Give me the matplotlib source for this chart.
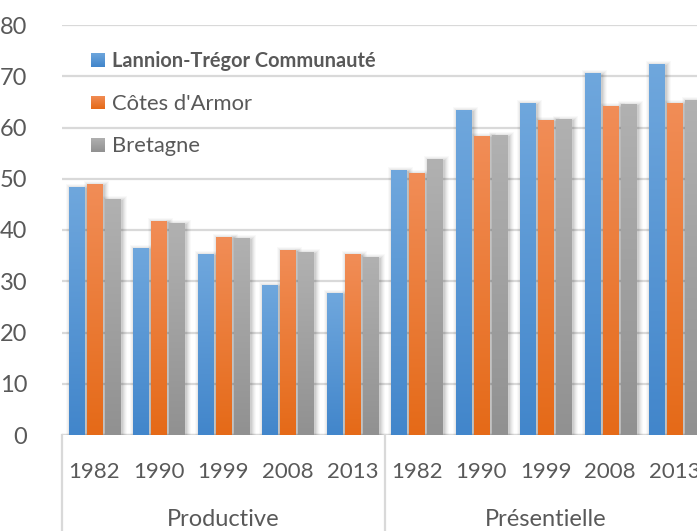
import matplotlib
matplotlib.use("Agg")
import matplotlib.pyplot as plt
import numpy as np
from matplotlib.patches import Rectangle
from matplotlib.colors import LinearSegmentedColormap

years = ["1982", "1990", "1999", "2008", "2013"]
groups = ["Productive", "Présentielle"]
series_names = ["Lannion-Trégor Communauté", "Côtes d'Armor", "Bretagne"]
ltc = [48.4, 36.5, 35.3, 29.3, 27.7, 51.8, 63.5, 64.8, 70.7, 72.3]
cda = [49.0, 41.8, 38.7, 36.1, 35.3, 51.2, 58.4, 61.5, 64.1, 64.8]
bret = [46.1, 41.4, 38.5, 35.7, 34.8, 53.9, 58.6, 61.7, 64.5, 65.4]
series = [ltc, cda, bret]
grad = [("#4286cb", "#6fa7dd"), ("#e56a18", "#f18d57"), ("#919191", "#b1b1b1")]

W, H = 697, 531
fig = plt.figure(figsize=(W / 100, H / 100), dpi=100)
AX_L, AX_B, AX_T = 62, 435, 25
ax = fig.add_axes([AX_L / W, (H - AX_B) / H, 645 / W, (AX_B - AX_T) / H])

font = "Lato"
tcol = "#595959"
ax.set_yticks(np.arange(0, 81, 10))
ax.yaxis.grid(True, color="#d9d9d9", linewidth=1.6)
ax.set_axisbelow(True)
for s in ax.spines.values():
    s.set_visible(False)
ax.tick_params(axis="y", length=0, pad=25, labelsize=17, labelcolor=tcol)
for lab in ax.get_yticklabels():
    lab.set_fontfamily(font)
ax.set_xticks([])
ax.axhline(0, color="#d9d9d9", linewidth=1.6, zorder=1)

px_x = 1 / 64.5
px_y = 80 / 410
offs = [-0.277, 0.0, 0.279]
bw = 0.233
n = len(ltc)
xs = np.arange(n)
for si, vals in enumerate(series):
    cmap = LinearSegmentedColormap.from_list("g%d" % si, [grad[si][0], grad[si][1]])
    for i, v in enumerate(vals):
        x0 = xs[i] + offs[si] - bw / 2
        for k, a in [(5, 0.025), (4, 0.03), (3, 0.04), (2, 0.05), (1, 0.06)]:
            ax.add_patch(Rectangle((x0 - k * px_x + 2 * px_x, 0), bw + 2 * k * px_x,
                                   v + k * px_y - 2 * px_y, facecolor="black", alpha=a,
                                   edgecolor="none", zorder=2))
        rect = Rectangle((x0, 0), bw, v, facecolor="none", edgecolor="none", zorder=3)
        ax.add_patch(rect)
        img = ax.imshow(np.linspace(0, 1, 100).reshape(-1, 1), cmap=cmap, origin="lower",
                        extent=[x0, x0 + bw, 0, v], aspect="auto", zorder=3,
                        interpolation="bilinear")
        img.set_clip_path(rect)
ax.set_xlim(-0.5, 9.5)
ax.set_ylim(0, 80)

# category labels (positions in pixels below the axis)
for i in range(n):
    ax.text(xs[i], -(478 - AX_B) * px_y, years[i % 5], ha="center", va="baseline",
            fontsize=16, color=tcol, family=font, clip_on=False)
for g, name in enumerate(groups):
    ax.text(2 + 5 * g, -(530 - AX_B) * px_y, name, ha="center", va="bottom",
            fontsize=17, color=tcol, family=font, clip_on=False)
for xv in [-0.5, 4.5, 9.5]:
    ax.plot([xv, xv], [0, -100 * px_y], color="#d9d9d9", linewidth=1.6, clip_on=False)

# legend drawn manually in figure pixels
for i, name in enumerate(series_names):
    cy = 60 + 42.5 * i
    cmap = LinearSegmentedColormap.from_list("lg%d" % i, [grad[i][0], grad[i][1]])
    lax = fig.add_axes([91 / W, 1 - (cy + 7) / H, 14 / W, 14 / H])
    lax.imshow(np.linspace(0, 1, 20).reshape(-1, 1), cmap=cmap, origin="lower",
               aspect="auto", interpolation="bilinear")
    lax.axis("off")
    fig.text(112 / W, 1 - (cy + 7) / H, name, ha="left", va="baseline",
             fontsize=14.4 if i == 0 else 15.8, fontweight="bold" if i == 0 else "normal",
             color=tcol, family=font)

fig.savefig("out.png", dpi=100)
